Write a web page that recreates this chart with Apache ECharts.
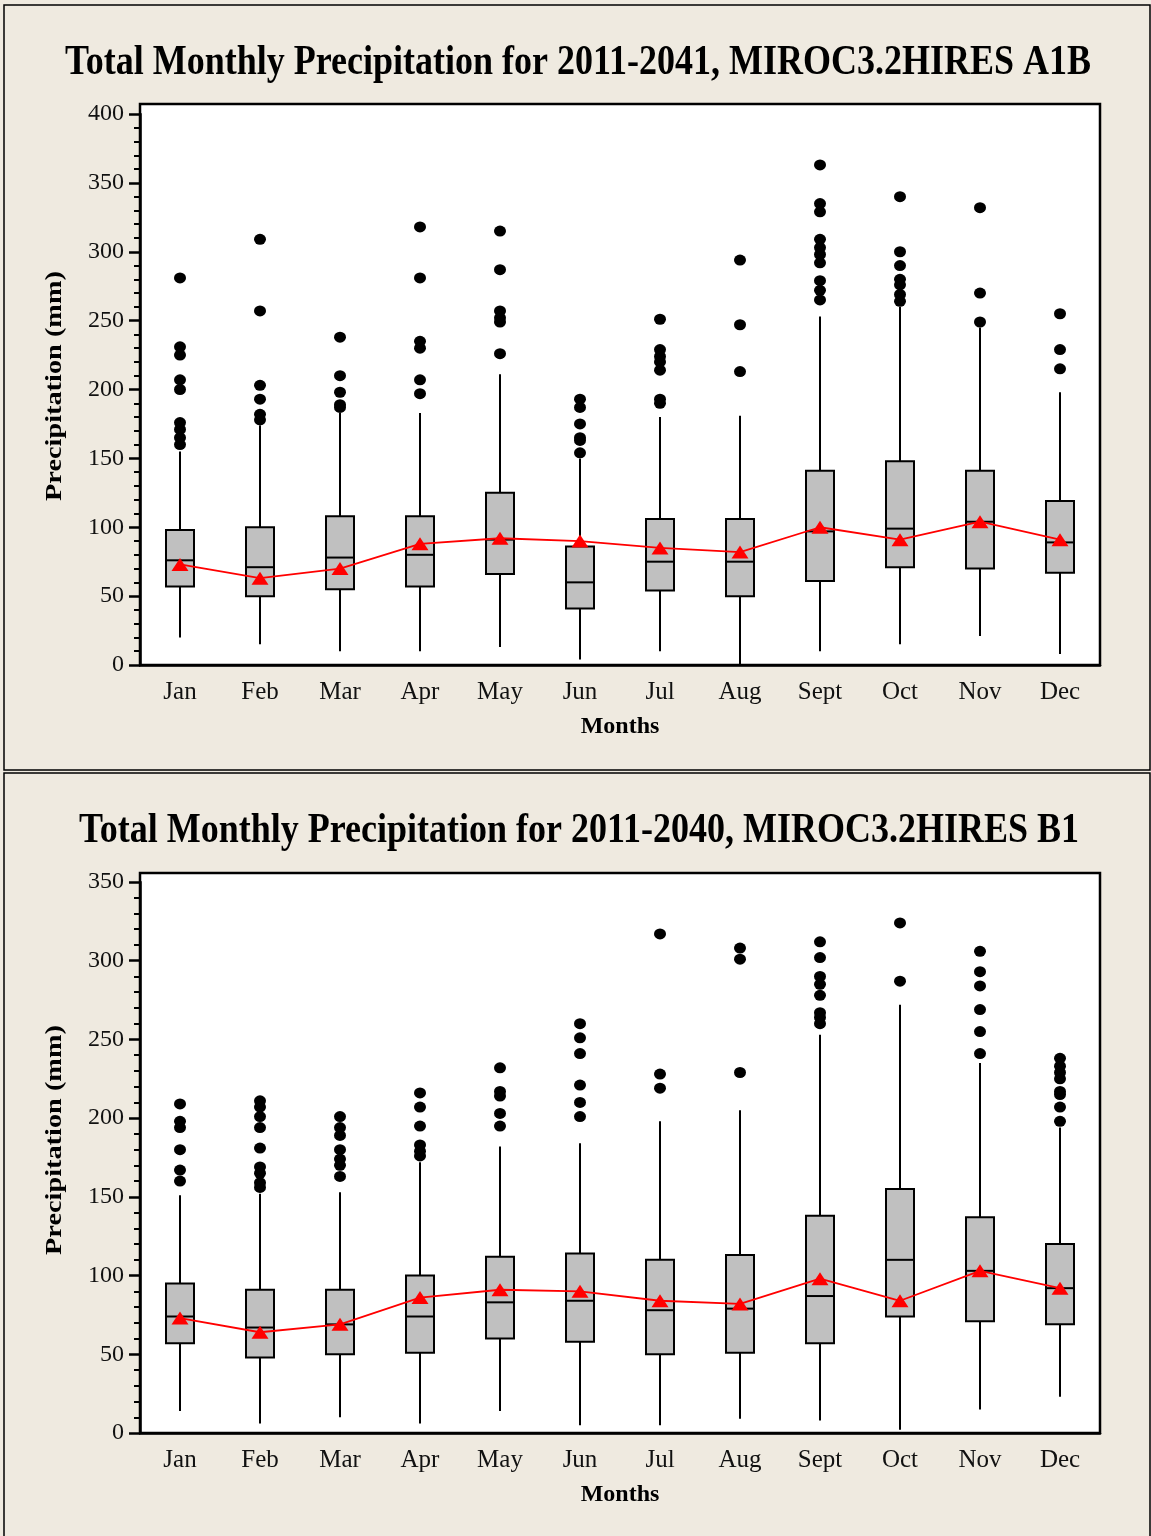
<!DOCTYPE html>
<html>
<head>
<meta charset="utf-8">
<script src="https://cdn.jsdelivr.net/npm/echarts@6.0.0/dist/echarts.min.js"></script>
<style>
  html, body { margin: 0; padding: 0; background: #efeae0; }
  #chart { width: 1151px; height: 1536px; }
</style>
</head>
<body>
<div id="chart"></div>
<script>
// month categories
const months = ['Jan', 'Feb', 'Mar', 'Apr', 'May', 'Jun', 'Jul', 'Aug', 'Sept', 'Oct', 'Nov', 'Dec'];

// A1B 2011-2041: [low whisker, Q1, median, Q3, high whisker]
const a1bBoxes = [
  [20, 57, 76, 98, 155],
  [15, 50, 71, 100, 174],
  [10, 55, 78, 108, 183],
  [10, 57, 80, 108, 183],
  [13, 66, 91, 125, 211],
  [4, 41, 60, 86, 150],
  [10, 54, 75, 106, 180],
  [0, 50, 75, 106, 181],
  [10, 61, 97, 141, 253],
  [15, 71, 99, 148, 260],
  [21, 70, 104, 141, 245],
  [8, 67, 89, 119, 198]
];
const a1bMeans = [73, 63, 70, 88, 92, 90, 85, 82, 100, 91, 104, 91];
const a1bOutliers = [
  [281, 231, 225, 207, 200, 176, 171, 165, 160],
  [309, 257, 203, 193, 182, 178],
  [238, 210, 198, 189, 187],
  [318, 281, 235, 230, 207, 197],
  [315, 287, 257, 252, 249, 226],
  [193, 187, 175, 165, 163, 154],
  [251, 229, 224, 220, 214, 193, 190],
  [294, 247, 213],
  [363, 335, 329, 309, 303, 298, 292, 279, 272, 265],
  [340, 300, 290, 280, 276, 269, 264],
  [332, 270, 249],
  [255, 229, 215]
];

// B1 2011-2040
const b1Boxes = [
  [14, 57, 74, 95, 151],
  [6, 48, 67, 91, 152],
  [10, 50, 69, 91, 153],
  [6, 51, 74, 100, 172],
  [14, 60, 83, 112, 182],
  [5, 58, 84, 114, 184],
  [5, 50, 78, 110, 198],
  [9, 51, 79, 113, 205],
  [8, 57, 87, 138, 253],
  [2, 74, 110, 155, 272],
  [15, 71, 103, 137, 235],
  [23, 69, 92, 120, 194]
];
const b1Means = [73, 64, 69, 86, 91, 90, 84, 82, 98, 84, 103, 92];
const b1Outliers = [
  [209, 198, 194, 180, 167, 160],
  [211, 207, 201, 194, 181, 169, 165, 159, 156],
  [201, 194, 189, 180, 174, 170, 163],
  [216, 207, 195, 183, 179, 176],
  [232, 217, 214, 203, 195],
  [260, 251, 241, 221, 210, 201],
  [317, 228, 219],
  [308, 301, 229],
  [312, 302, 290, 285, 278, 267, 264, 260],
  [324, 287],
  [306, 293, 284, 269, 255, 241],
  [238, 233, 229, 225, 217, 215, 207, 198]
];

const serif = '"Liberation Serif", "Times New Roman", serif';
const ink = '#000';

function boxRows(boxes) {
  return boxes.map((b, i) => [i].concat(b));
}
function outlierPoints(list) {
  let pts = [];
  list.forEach((vals, i) => vals.forEach(v => pts.push([i, v])));
  return pts;
}

function renderBox(params, api) {
  const i = api.value(0);
  const lo = api.coord([i, api.value(1)]);
  const q1 = api.coord([i, api.value(2)]);
  const md = api.coord([i, api.value(3)]);
  const q3 = api.coord([i, api.value(4)]);
  const hi = api.coord([i, api.value(5)]);
  const w = 28;
  const x = q1[0];
  const lineStyle = { stroke: '#000', lineWidth: 2 };
  return {
    type: 'group',
    children: [
      { type: 'line', shape: { x1: x, y1: lo[1], x2: x, y2: q1[1] }, style: lineStyle },
      { type: 'line', shape: { x1: x, y1: q3[1], x2: x, y2: hi[1] }, style: lineStyle },
      { type: 'rect', shape: { x: x - w / 2, y: q3[1], width: w, height: q1[1] - q3[1] },
        style: { fill: '#c0c0c0', stroke: '#000', lineWidth: 2 } },
      { type: 'line', shape: { x1: x - w / 2, y1: md[1], x2: x + w / 2, y2: md[1] }, style: lineStyle }
    ]
  };
}

function xAxisFor(idx) {
  return {
    type: 'category',
    gridIndex: idx,
    data: months,
    boundaryGap: true,
    name: 'Months',
    nameLocation: 'middle',
    nameGap: 50,
    nameTextStyle: { fontFamily: serif, fontWeight: 'bold', fontSize: 24, color: ink },
    axisLine: { lineStyle: { color: '#000', width: 2.5 } },
    axisTick: { alignWithLabel: true, length: 10, lineStyle: { color: '#000', width: 2.5 } },
    axisLabel: { fontFamily: serif, fontSize: 25, color: '#111', margin: 15 }
  };
}
function yAxisFor(idx, max) {
  return {
    type: 'value',
    gridIndex: idx,
    min: 0,
    max: max,
    interval: 50,
    axisLine: { show: true, lineStyle: { color: '#000', width: 2.5 } },
    axisTick: { show: true, length: 11, lineStyle: { color: '#000', width: 2.5 } },
    minorTick: { show: true, splitNumber: 5, length: 6, lineStyle: { color: '#000', width: 2 } },
    splitLine: { show: false },
    axisLabel: { fontFamily: serif, fontSize: 24, color: '#111', margin: 16 }
  };
}

function panelSeries(idx, boxes, means, outliers) {
  return [
    {
      type: 'custom',
      xAxisIndex: idx, yAxisIndex: idx,
      renderItem: renderBox,
      encode: { x: 0, y: [1, 2, 3, 4, 5] },
      data: boxRows(boxes),
      z: 2
    },
    {
      type: 'scatter',
      xAxisIndex: idx, yAxisIndex: idx,
      symbol: 'circle',
      symbolSize: [12, 11],
      itemStyle: { color: '#000', opacity: 1 },
      data: outlierPoints(outliers),
      z: 3
    },
    {
      type: 'line',
      xAxisIndex: idx, yAxisIndex: idx,
      data: means,
      symbol: 'triangle',
      symbolSize: [17, 13],
      showAllSymbol: true,
      itemStyle: { color: '#ff0000', opacity: 1 },
      lineStyle: { color: '#ff0000', width: 1.8 },
      z: 4
    }
  ];
}

function titleText(text, x, y) {
  return {
    type: 'text', x: x, y: y, scaleY: 1.18, z: 5,
    style: { text: text, fontFamily: serif, fontWeight: 'bold', fontSize: 36, fill: ink,
      align: 'center', verticalAlign: 'middle' }
  };
}
function yNameText(x, y) {
  return {
    type: 'text', x: x, y: y, rotation: Math.PI / 2, scaleX: 1.18, z: 5,
    style: { text: 'Precipitation (mm)', fontFamily: serif, fontWeight: 'bold', fontSize: 24, fill: ink,
      align: 'center', verticalAlign: 'middle' }
  };
}

let myChart = echarts.init(document.getElementById('chart'), null, { renderer: 'canvas' });
myChart.setOption({
  backgroundColor: '#efeae0',
  animation: false,
  grid: [
    { left: 140, top: 114, width: 960, height: 551 },
    { left: 140, top: 882, width: 960, height: 551 }
  ],
  xAxis: [xAxisFor(0), xAxisFor(1)],
  yAxis: [yAxisFor(0, 400), yAxisFor(1, 350)],
  graphic: [
    { type: 'rect', z: -1, shape: { x: 4, y: 5, width: 1146, height: 765 },
      style: { fill: 'none', stroke: '#000', lineWidth: 1.5 } },
    { type: 'rect', z: -1, shape: { x: 4, y: 773, width: 1146, height: 770 },
      style: { fill: 'none', stroke: '#000', lineWidth: 1.5 } },
    { type: 'rect', z: -1, shape: { x: 140, y: 104, width: 960, height: 561 },
      style: { fill: '#fff', stroke: '#000', lineWidth: 2.5 } },
    { type: 'rect', z: -1, shape: { x: 140, y: 873, width: 960, height: 560 },
      style: { fill: '#fff', stroke: '#000', lineWidth: 2.5 } },
    titleText('Total Monthly Precipitation for 2011-2041, MIROC3.2HIRES A1B', 578, 63),
    titleText('Total Monthly Precipitation for 2011-2040, MIROC3.2HIRES B1', 579, 831),
    yNameText(55, 386),
    yNameText(55, 1140)
  ],
  series: panelSeries(0, a1bBoxes, a1bMeans, a1bOutliers)
    .concat(panelSeries(1, b1Boxes, b1Means, b1Outliers))
});
</script>
</body>
</html>
